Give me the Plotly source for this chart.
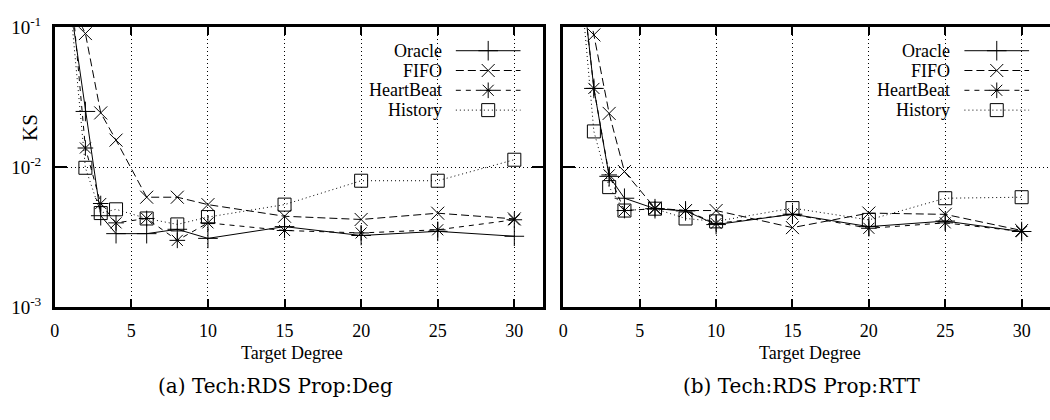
import plotly.graph_objects as go

# ---------------- data ----------------
target_degree = [1, 2, 3, 4, 6, 8, 10, 15, 20, 25, 30]

oracle_a = [0.15, 0.025, 0.0045, 0.00335, 0.00335, 0.0036, 0.0031, 0.00376, 0.00325, 0.00348, 0.00321]
fifo_a = [0.15, 0.090, 0.0244, 0.0156, 0.0061, 0.0061, 0.0054, 0.00446, 0.00423, 0.00469, 0.00427]
heartbeat_a = [0.23, 0.0137, 0.0055, 0.0040, 0.0043, 0.0030, 0.0040, 0.00353, 0.00339, 0.00357, 0.00421]
history_a = [0.15, 0.0099, 0.0047, 0.0050, 0.0043, 0.0039, 0.0044, 0.0054, 0.0080, 0.0080, 0.0113]

oracle_b = [0.35, 0.0365, 0.0086, 0.0060, 0.00505, 0.00487, 0.00389, 0.00461, 0.00376, 0.00412, 0.00347]
fifo_b = [0.3, 0.088, 0.0242, 0.0093, 0.0051, 0.0049, 0.0049, 0.0037, 0.0047, 0.0046, 0.00353]
heartbeat_b = [0.35, 0.0365, 0.0088, 0.0049, 0.00505, 0.0049, 0.00396, 0.0046, 0.00366, 0.0040, 0.00347]
history_b = [0.3, 0.018, 0.0072, 0.0049, 0.00505, 0.0043, 0.0041, 0.0051, 0.0042, 0.0060, 0.0061]

series_names = ["Oracle", "FIFO", "HeartBeat", "History"]
x_ticks = [0, 5, 10, 15, 20, 25, 30]
y_ticks = [0.001, 0.01, 0.1]
y_ticktext = ["10<sup>-3</sup>", "10<sup>-2</sup>", "10<sup>-1</sup>"]
captions = ["(a) Tech:RDS Prop:Deg", "(b) Tech:RDS Prop:RTT"]
x_title = "Target Degree"
y_title = "KS"

# ---------------- styles ----------------
W, H = 1050, 420
SERIF = "Liberation Serif"
CAPTION_FONT = "DejaVu Serif"
styles = {
    "Oracle": dict(dash="solid", symbol="cross-thin", size=14),
    "FIFO": dict(dash="8px,4px", symbol="x-thin", size=13),
    "HeartBeat": dict(dash="5px,5px", symbol="asterisk", size=13),
    "History": dict(dash="1px,3px", symbol="square-open", size=13),
}

fig = go.Figure()

panels = [
    ("x", "y", [oracle_a, fifo_a, heartbeat_a, history_a]),
    ("x2", "y2", [oracle_b, fifo_b, heartbeat_b, history_b]),
]
for xa, ya, vals in panels:
    for name, v in zip(series_names, vals):
        st = styles[name]
        fig.add_trace(go.Scatter(
            x=target_degree, y=v, xaxis=xa, yaxis=ya, mode="lines+markers",
            name=name, showlegend=False,
            line=dict(color="black", width=1, dash=st["dash"]),
            marker=dict(symbol=st["symbol"], size=st["size"], color="black",
                        line=dict(color="black", width=1)),
        ))

# ---------------- custom gnuplot-like legends (pixel overlay axis) ----------------
panel_left_px = [50, 561]
leg_text_right = 390   # relative to panel left
leg_sample = (403, 468)
leg_rows = [40, 61, 82, 103]
for pl in panel_left_px:
    for name, ry in zip(series_names, leg_rows):
        st = styles[name]
        x0, x1 = pl + leg_sample[0], pl + leg_sample[1]
        fig.add_trace(go.Scatter(
            x=[x0, x1], y=[ry, ry], xaxis="x3", yaxis="y3", mode="lines",
            showlegend=False, hoverinfo="skip",
            line=dict(color="black", width=1, dash=st["dash"]),
        ))
        fig.add_trace(go.Scatter(
            x=[(x0 + x1) / 2], y=[ry], xaxis="x3", yaxis="y3", mode="markers",
            showlegend=False, hoverinfo="skip",
            marker=dict(symbol=st["symbol"], size=st["size"], color="black",
                        line=dict(color="black", width=1)),
        ))
        fig.add_annotation(
            x=(pl + leg_text_right) / W, y=1 - ry / H, xref="paper", yref="paper",
            text=name, showarrow=False, xanchor="right", yanchor="middle",
            borderpad=0, font=dict(family=SERIF, size=18, color="black"),
        )

# ---------------- axes ----------------
common_x = dict(
    range=[0, 31.9], tickvals=x_ticks, ticks="inside", ticklen=8, tickwidth=2,
    tickcolor="black", showline=True, linecolor="black", linewidth=2.5,
    mirror="allticks", showgrid=True, gridcolor="black", griddash="1px,3px",
    gridwidth=1, zeroline=False, tickfont=dict(family=SERIF, size=18, color="black"),
    ticklabelstandoff=5,
)
common_y = dict(
    type="log", range=[-3, -1], tickvals=y_ticks, ticktext=y_ticktext,
    ticks="inside", ticklen=12, tickwidth=2, tickcolor="black",
    showline=True, linecolor="black", linewidth=2.5,
    showgrid=True, gridcolor="black", griddash="1px,3px", gridwidth=1,
    zeroline=False, tickfont=dict(family=SERIF, size=19, color="black"),
)

fig.update_layout(
    width=W, height=H, margin=dict(l=0, r=0, t=0, b=0),
    paper_bgcolor="white", plot_bgcolor="rgba(0,0,0,0)",
    font=dict(family=SERIF, color="black"),
    showlegend=False,
    xaxis=dict(domain=[50 / W, 541 / W], anchor="y", **common_x),
    yaxis=dict(domain=[1 - 312 / H, 1 - 15 / H], anchor="x", mirror="allticks",
               ticklabelstandoff=7, **common_y),
    xaxis2=dict(domain=[561 / W, 1.0], anchor="y2",
                **{**common_x, "range": [0, (W - 561) / 15.35]}),
    yaxis2=dict(domain=[1 - 312 / H, 1 - 15 / H], anchor="x2", showticklabels=False,
                mirror=False, **common_y),
    xaxis3=dict(domain=[0, 1], range=[0, W], visible=False, anchor="y3"),
    yaxis3=dict(domain=[0, 1], range=[H, 0], visible=False, anchor="x3"),
)

# axis titles and captions
fig.add_annotation(x=25 / W, y=1 - 121 / H, xref="paper", yref="paper", text=y_title,
                   textangle=-90, showarrow=False, yanchor="middle", xanchor="center",
                   font=dict(family=SERIF, size=21, color="black"))
for cx in [288, 809]:
    fig.add_annotation(x=cx / W, y=1 - 361 / H, xref="paper", yref="paper", text=x_title,
                       showarrow=False, yanchor="middle", xanchor="center",
                       font=dict(family=SERIF, size=18, color="black"))
for cx, cap in zip([272, 800], captions):
    fig.add_annotation(x=cx / W, y=1 - 396 / H, xref="paper", yref="paper", text=cap,
                       showarrow=False, yanchor="middle", xanchor="center",
                       font=dict(family=CAPTION_FONT, size=20, color="black"))

fig.write_html("out.html")
